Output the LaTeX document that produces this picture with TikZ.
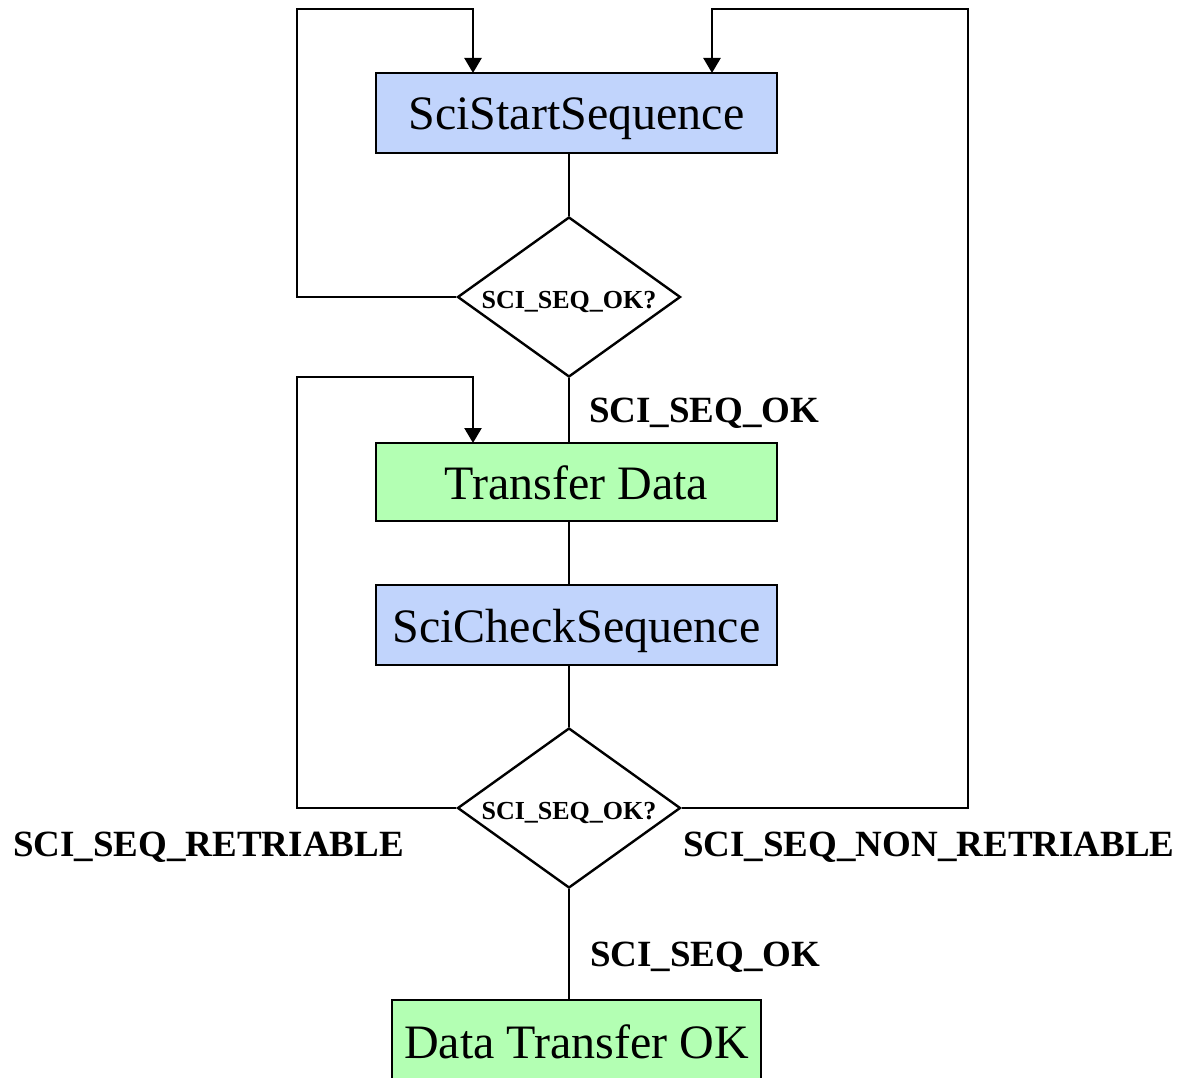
\documentclass[tikz,border=0pt]{standalone}
\usepackage{fontspec}
\setmainfont{Liberation Serif}
\usetikzlibrary{shapes.geometric,arrows.meta}

\definecolor{seqblue}{RGB}{193,212,252}
\definecolor{okgreen}{RGB}{179,255,179}

\tikzset{
  flow/.style={line width=2.4pt, draw=black},
  arr/.style={flow, -{Triangle[length=15pt,width=17pt]}},
  procbox/.style={rectangle, draw=black, line width=2.4pt, inner sep=0pt,
    text height=34pt, text depth=0pt,
    minimum width=401pt, font=\fontsize{48}{52}\selectfont},
  decision/.style={diamond, draw=black, line width=2.4pt, fill=white, inner sep=0pt,
    text height=22pt, text depth=0pt,
    minimum width=223pt, minimum height=160pt, aspect=1.39,
    font=\bfseries\fontsize{26}{28}\selectfont},
  edgelabel/.style={inner sep=0pt, font=\bfseries\fontsize{37}{40}\selectfont}
}

\begin{document}
\begin{tikzpicture}[x=1pt,y=-1pt]
  \clip (0,0) rectangle (1181,1078);
  \fill[white] (0,0) rectangle (1181,1078);

  % process boxes
  \node[procbox, fill=seqblue, minimum height=80pt] (start) at (576.5,113) {SciStartSequence};
  \node[procbox, fill=okgreen, minimum height=78pt] (xfer) at (576.5,482) {Transfer Data};
  \node[procbox, fill=seqblue, minimum height=80pt] (check) at (576.5,625) {SciCheckSequence};
  \node[procbox, fill=okgreen, minimum width=369pt, minimum height=82pt] (done) at (576.5,1041) {Data Transfer OK};

  % decisions
  \node[decision] (d1) at (569,297) {SCI\_SEQ\_OK?};
  \node[decision] (d2) at (569,808) {SCI\_SEQ\_OK?};

  % corner and entry points of the loops
  \coordinate (ltop) at (297,9);
  \coordinate (rtop) at (968,9);
  \coordinate (lmid) at (297,377);
  \coordinate (in1) at (473,73);
  \coordinate (in2) at (712,73);
  \coordinate (in3) at (473,443);

  % main flow
  \draw[flow] (start.south -| d1.north) -- (d1.north);
  \draw[flow] (d1.south) -- (d1.south |- xfer.north);
  \draw[flow] (xfer.south -| d1.north) -- (check.north -| d1.north);
  \draw[flow] (check.south -| d2.north) -- (d2.north);
  \draw[flow] (d2.south) -- (d2.south |- done.north);

  % loops back
  \draw[arr] (d1.west) -| (ltop) -| (in1);
  \draw[arr] (d2.east) -| (rtop) -| (in2);
  \draw[arr] (d2.west) -| (lmid) -| (in3);

  % branch labels
  \node[edgelabel, anchor=base west] (lok1) at (589,422) {SCI\_SEQ\_OK};
  \node[edgelabel, anchor=base west] (lok2) at (590,966) {SCI\_SEQ\_OK};
  \node[edgelabel, anchor=base west] (lret) at (13,856) {SCI\_SEQ\_RETRIABLE};
  \node[edgelabel, anchor=base west] (lnon) at (683,856) {SCI\_SEQ\_NON\_RETRIABLE};
\end{tikzpicture}
\end{document}
